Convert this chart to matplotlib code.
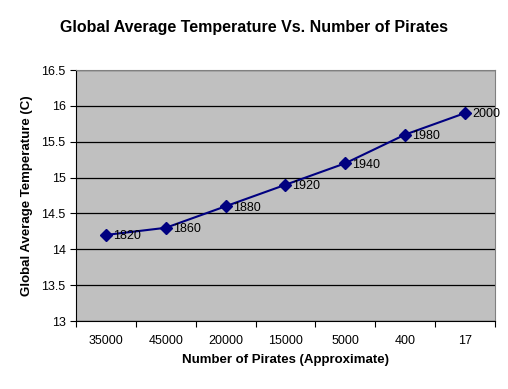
import numpy as np
import matplotlib.pyplot as plt

plt.rcParams['font.family'] = ['Liberation Sans', 'DejaVu Sans']

pirates = ['35000', '45000', '20000', '15000', '5000', '400', '17']
years = ['1820', '1860', '1880', '1920', '1940', '1980', '2000']
temps = [14.2, 14.3, 14.6, 14.9, 15.2, 15.6, 15.9]

fig = plt.figure(figsize=(5.08, 3.89), dpi=100)
ax = fig.add_axes([0.1496, 0.1748, 0.8248, 0.6452])
ax.set_facecolor('#C0C0C0')

x = np.arange(len(pirates))
ax.plot(x, temps, color='#000080', lw=1.5, marker='D', markersize=6, zorder=3)
for xi, yi, lab in zip(x, temps, years):
    ax.annotate(lab, (xi, yi), xytext=(5, -1), textcoords='offset points',
                va='center', ha='left', fontsize=9)

ax.set_xlim(-0.5, len(pirates) - 0.5)
ax.set_ylim(13, 16.5)
ax.set_yticks(np.arange(13, 16.51, 0.5))
ax.set_yticklabels(['13', '13.5', '14', '14.5', '15', '15.5', '16', '16.5'], fontsize=9)
ax.set_xticks(np.arange(-0.5, len(pirates), 1.0))
ax.set_xticklabels([])
ax.set_xticks(x, minor=True)
ax.set_xticklabels(pirates, minor=True, fontsize=9)
ax.tick_params(axis='x', which='minor', length=0, pad=10)
ax.tick_params(axis='both', which='major', direction='out', length=4, color='black')
ax.yaxis.grid(True, color='black', lw=0.9)
ax.set_axisbelow(True)

for s in ['top', 'right']:
    ax.spines[s].set_color('#808080')
for s in ['left', 'bottom']:
    ax.spines[s].set_color('black')

ax.set_xlabel('Number of Pirates (Approximate)', fontsize=9.5, fontweight='bold', labelpad=5)
ax.set_ylabel('Global Average Temperature (C)', fontsize=9.5, fontweight='bold', labelpad=6)
fig.text(0.5, 0.93, 'Global Average Temperature Vs. Number of Pirates',
         ha='center', va='center', fontsize=11.5, fontweight='bold')

fig.savefig('out.png', dpi=100)
